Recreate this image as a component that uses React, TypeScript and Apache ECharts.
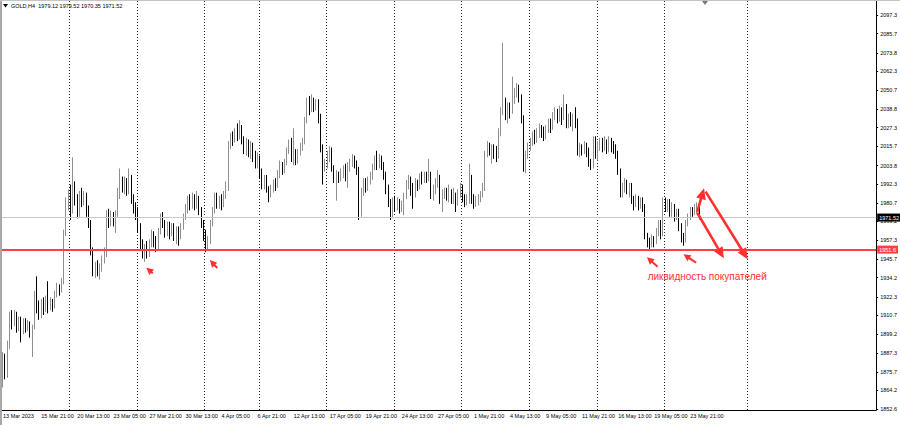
import React, { useEffect, useRef } from "react";
import * as echarts from "echarts";

// ---------- data ----------
const symbolName = "GOLD,H4";
const SLOT_COUNT = 388; // bar slots on the time axis (data + empty future space)

const xLabelIndex = [0, 17, 33, 49, 65, 81, 97, 113, 129, 145, 161, 177, 193, 209, 225, 241, 257, 273, 289, 305];
const xLabelText = [
  "13 Mar 2023", "15 Mar 21:00", "20 Mar 13:00", "23 Mar 05:00", "27 Mar 21:00", "30 Mar 13:00",
  "4 Apr 05:00", "6 Apr 21:00", "12 Apr 13:00", "17 Apr 05:00", "19 Apr 21:00", "24 Apr 13:00",
  "27 Apr 05:00", "1 May 21:00", "4 May 13:00", "9 May 05:00", "11 May 21:00", "16 May 13:00",
  "19 May 05:00", "23 May 21:00",
];
const weekStartIndex = [30, 60, 90, 114, 144, 174, 204, 234, 264, 294, 331];

const yTickValues = [
  1852.6, 1864.2, 1875.7, 1887.3, 1899.2, 1910.7, 1922.3, 1934.2, 1945.7, 1957.3, 1969.2,
  1980.7, 1992.3, 2003.8, 2015.7, 2027.3, 2038.8, 2050.7, 2062.3, 2073.8, 2085.7, 2097.3,
];
const yMin = 1852.0;
const yMax = 2106.0;

const bidPrice = 1971.52;
const liquidityLevel = 1951.6;
const annotationText = "ликвидность покупателей";
const annotationAnchor = [286.1, 1934.6];

// small arrow markers: tip and tail in [bar index, price]
const smallArrowTips = [[63.6, 1940.3], [91.8, 1945.1], [285.8, 1946.8], [302.0, 1948.7]];
const smallArrowTails = [[66.5, 1936.9], [95.1, 1940.2], [290.5, 1941.0], [307.6, 1943.5]];
// large drawn arrows: start and tip in [bar index, price]
const bigArrowStarts = [[308.1, 1975.1], [311.8, 1987.6], [308.1, 1974.5]];
const bigArrowTips = [[311.1, 1989.7], [330.5, 1945.6], [319.9, 1946.2]];

// H4 candles: [open, close, low, high]
const candles = [
  [1868, 1885, 1866, 1888], [1885, 1874, 1871, 1887], [1874, 1893, 1872, 1895], [1893, 1910, 1890, 1913],
  [1910, 1906, 1902, 1914], [1906, 1911, 1904, 1914], [1911, 1903, 1900, 1913], [1903, 1908, 1901, 1910],
  [1908, 1902, 1894, 1910], [1902, 1906, 1899, 1909], [1906, 1904, 1900, 1909], [1904, 1905, 1901, 1908],
  [1905, 1899, 1897, 1907], [1899, 1903, 1885, 1905], [1903, 1923, 1902, 1926], [1923, 1916, 1912, 1935],
  [1916, 1912, 1908, 1920], [1912, 1918, 1909, 1921], [1918, 1915, 1911, 1922], [1915, 1919, 1913, 1923],
  [1919, 1916, 1912, 1932], [1916, 1920, 1914, 1922], [1920, 1917, 1913, 1921], [1917, 1924, 1915, 1926],
  [1924, 1928, 1922, 1931], [1928, 1926, 1923, 1930], [1926, 1932, 1925, 1934], [1932, 1962, 1930, 1964],
  [1962, 1981, 1960, 1984], [1981, 1987, 1976, 1989],
  // week of 20 Mar
  [1987, 1976, 1970, 1992], [1976, 1990, 1974, 2009], [1990, 1983, 1979, 1994], [1983, 1974, 1971, 1986],
  [1974, 1986, 1972, 1988], [1986, 1982, 1978, 1990], [1982, 1985, 1979, 1988], [1985, 1976, 1972, 1987],
  [1976, 1968, 1965, 1979], [1968, 1951, 1948, 1970], [1951, 1937, 1935, 1953], [1937, 1941, 1934, 1944],
  [1941, 1938, 1935, 1945], [1938, 1940, 1933, 1943], [1940, 1946, 1938, 1948], [1946, 1950, 1943, 1953],
  [1950, 1973, 1947, 1976], [1973, 1968, 1965, 1977], [1968, 1972, 1966, 1976], [1972, 1970, 1966, 1975],
  [1970, 1974, 1962, 1976], [1974, 1985, 1972, 1990], [1985, 1993, 1983, 2002], [1993, 1990, 1987, 1997],
  [1990, 1994, 1986, 1997], [1994, 1988, 1985, 1996], [1988, 1995, 1986, 2002], [1995, 1983, 1980, 1998],
  [1983, 1977, 1974, 1986], [1977, 1976, 1970, 1981],
  // week of 27 Mar
  [1976, 1966, 1962, 1978], [1966, 1955, 1952, 1968], [1955, 1950, 1946, 1958], [1950, 1952, 1944, 1955],
  [1952, 1948, 1946, 1957], [1948, 1956, 1947, 1958], [1956, 1961, 1953, 1964], [1961, 1957, 1953, 1963],
  [1957, 1952, 1950, 1960], [1952, 1963, 1951, 1965], [1963, 1972, 1961, 1974], [1972, 1968, 1965, 1975],
  [1968, 1962, 1959, 1970], [1962, 1967, 1960, 1969], [1967, 1963, 1958, 1969], [1963, 1966, 1960, 1968],
  [1966, 1961, 1957, 1968], [1961, 1964, 1955, 1966], [1964, 1960, 1954, 1966], [1960, 1966, 1958, 1968],
  [1966, 1972, 1964, 1974], [1972, 1977, 1970, 1980], [1977, 1982, 1974, 1985], [1982, 1979, 1976, 1986],
  [1979, 1983, 1977, 1987], [1983, 1980, 1976, 1986], [1980, 1982, 1977, 1988], [1982, 1976, 1973, 1985],
  [1976, 1968, 1965, 1978], [1968, 1960, 1957, 1970],
  // week of 3 Apr
  [1960, 1955, 1950, 1964], [1955, 1957, 1951, 1960], [1957, 1968, 1955, 1970], [1968, 1976, 1966, 1978],
  [1976, 1984, 1974, 1987], [1984, 1980, 1977, 1987], [1980, 1983, 1977, 1985], [1983, 1979, 1976, 1986],
  [1979, 1985, 1978, 1988], [1985, 1990, 1983, 1994], [1990, 2017, 1988, 2019], [2017, 2021, 2014, 2024],
  [2021, 2020, 2016, 2025], [2020, 2024, 2018, 2027], [2024, 2022, 2019, 2030], [2022, 2026, 2020, 2032],
  [2026, 2020, 2017, 2029], [2020, 2014, 2011, 2022], [2014, 2018, 2010, 2021], [2018, 2013, 2009, 2020],
  [2013, 2016, 2008, 2019], [2016, 2010, 2006, 2018], [2010, 2006, 2002, 2013], [2006, 2008, 2002, 2012],
  // week of 10 Apr
  [2008, 2000, 1996, 2010], [2000, 1992, 1989, 2002], [1992, 1996, 1989, 1998], [1996, 1989, 1987, 1998],
  [1989, 1985, 1981, 1991], [1985, 1990, 1984, 1992], [1990, 1993, 1987, 1995], [1993, 1991, 1988, 1996],
  [1991, 1998, 1990, 2001], [1998, 2004, 1996, 2007], [2004, 2001, 1998, 2006], [2001, 2006, 1999, 2008],
  [2006, 2013, 2004, 2015], [2013, 2018, 2011, 2020], [2018, 2009, 2006, 2021], [2009, 2011, 2004, 2027],
  [2011, 2007, 2004, 2014], [2007, 2012, 2005, 2014], [2012, 2015, 2010, 2018], [2015, 2019, 2013, 2021],
  [2019, 2032, 2017, 2034], [2032, 2043, 2030, 2046], [2043, 2039, 2035, 2047], [2039, 2044, 2037, 2048],
  [2044, 2041, 2037, 2046], [2041, 2043, 2038, 2045], [2043, 2034, 2030, 2045], [2034, 2015, 2012, 2036],
  [2015, 2004, 1992, 2017], [2004, 2005, 2000, 2008],
  // week of 17 Apr
  [2005, 2010, 2002, 2013], [2010, 2014, 2006, 2016], [2014, 2002, 2000, 2015], [2002, 1996, 1993, 2004],
  [1996, 1998, 1982, 2001], [1998, 1996, 1993, 2000], [1996, 1999, 1994, 2002], [1999, 2002, 1996, 2004],
  [2002, 1999, 1994, 2005], [1999, 2003, 1990, 2006], [2003, 2005, 2000, 2008], [2005, 2008, 2003, 2011],
  [2008, 2005, 2002, 2010], [2005, 2001, 1998, 2007], [2001, 1976, 1970, 2003], [1976, 1988, 1972, 1990],
  [1988, 1993, 1985, 1996], [1993, 1991, 1987, 1996], [1991, 1995, 1988, 1997], [1995, 1997, 1992, 2000],
  [1997, 2003, 1995, 2005], [2003, 2007, 2001, 2010], [2007, 2005, 2001, 2013], [2005, 2008, 2002, 2011],
  [2008, 2004, 2001, 2010], [2004, 1998, 1995, 2006], [1998, 1990, 1986, 2000], [1990, 1980, 1978, 1992],
  [1980, 1974, 1970, 1983], [1974, 1982, 1971, 1984],
  // week of 24 Apr
  [1982, 1978, 1975, 1985], [1978, 1981, 1976, 1984], [1981, 1977, 1974, 1983], [1977, 1979, 1975, 1982],
  [1979, 1985, 1973, 1987], [1985, 1992, 1983, 1995], [1992, 1995, 1989, 1998], [1995, 1990, 1985, 1997],
  [1990, 1986, 1977, 1993], [1986, 1993, 1984, 1996], [1993, 1991, 1988, 1995], [1991, 1997, 1989, 1999],
  [1997, 1995, 1992, 2000], [1995, 1998, 1993, 2000], [1998, 1996, 1993, 2000], [1996, 1998, 1994, 2008],
  [1998, 1985, 1983, 2000], [1985, 1989, 1982, 1992], [1989, 1992, 1986, 1996], [1992, 1997, 1990, 2001],
  [1997, 1982, 1980, 1998], [1982, 1986, 1975, 1989], [1986, 1988, 1983, 1990], [1988, 1985, 1982, 1990],
  [1985, 1987, 1981, 1992], [1987, 1983, 1980, 1989], [1983, 1985, 1980, 1990], [1985, 1981, 1975, 1987],
  [1981, 1986, 1979, 1989], [1986, 1990, 1984, 1993],
  // week of 1 May
  [1990, 1984, 1981, 1992], [1984, 1981, 1978, 1986], [1981, 1983, 1979, 1986], [1983, 1996, 1980, 2005],
  [1996, 1984, 1980, 1998], [1984, 1980, 1977, 1986], [1980, 1982, 1978, 1985], [1982, 1983, 1979, 1986],
  [1983, 1986, 1981, 1988], [1986, 1990, 1984, 1993], [1990, 2011, 1988, 2013], [2011, 2016, 2009, 2019],
  [2016, 2013, 2010, 2018], [2013, 2015, 2005, 2017], [2015, 2012, 2008, 2017], [2012, 2010, 2006, 2016],
  [2010, 2024, 2008, 2027], [2024, 2038, 2022, 2040], [2038, 2043, 2035, 2080], [2043, 2036, 2032, 2046],
  [2036, 2040, 2030, 2043], [2040, 2038, 2033, 2043], [2038, 2044, 2036, 2059], [2044, 2050, 2042, 2052],
  [2050, 2052, 2046, 2055], [2052, 2046, 2043, 2054], [2046, 2033, 2030, 2048], [2033, 2004, 2000, 2035],
  [2004, 2010, 1999, 2013], [2010, 2016, 2008, 2018],
  // week of 8 May
  [2016, 2019, 2013, 2021], [2019, 2022, 2016, 2025], [2022, 2020, 2017, 2026], [2020, 2024, 2018, 2027],
  [2024, 2027, 2021, 2030], [2027, 2025, 2021, 2029], [2025, 2022, 2019, 2028], [2022, 2026, 2020, 2029],
  [2026, 2030, 2024, 2033], [2030, 2028, 2024, 2033], [2028, 2035, 2026, 2037], [2035, 2037, 2032, 2040],
  [2037, 2033, 2030, 2039], [2033, 2038, 2031, 2041], [2038, 2034, 2029, 2040], [2034, 2040, 2032, 2048],
  [2040, 2030, 2027, 2042], [2030, 2034, 2027, 2036], [2034, 2031, 2028, 2037], [2031, 2033, 2025, 2036],
  [2033, 2030, 2027, 2040], [2030, 2012, 2010, 2033], [2012, 2015, 2009, 2018], [2015, 2013, 2010, 2017],
  [2013, 2016, 2011, 2019], [2016, 2013, 2009, 2018], [2013, 2005, 2003, 2015], [2005, 2003, 2001, 2008],
  [2003, 2020, 2002, 2022], [2020, 2012, 2008, 2022],
  // week of 15 May
  [2012, 2016, 2007, 2019], [2016, 2019, 2013, 2021], [2019, 2016, 2012, 2021], [2016, 2018, 2013, 2022],
  [2018, 2014, 2011, 2020], [2014, 2019, 2012, 2022], [2019, 2016, 2012, 2021], [2016, 2015, 2011, 2019],
  [2015, 2011, 2008, 2017], [2011, 2000, 1998, 2013], [2000, 1986, 1984, 2002], [1986, 1990, 1984, 1993],
  [1990, 1993, 1987, 1996], [1993, 1989, 1986, 1995], [1989, 1991, 1984, 1993], [1991, 1983, 1980, 1993],
  [1983, 1980, 1976, 1985], [1980, 1983, 1978, 1986], [1983, 1979, 1976, 1985], [1979, 1982, 1977, 1984],
  [1982, 1978, 1975, 1984], [1978, 1960, 1958, 1980], [1960, 1956, 1953, 1962], [1956, 1955, 1952, 1959],
  [1955, 1958, 1953, 1961], [1958, 1956, 1953, 1960], [1956, 1962, 1955, 1965], [1962, 1968, 1960, 1970],
  [1968, 1962, 1958, 1970], [1962, 1982, 1960, 1984],
  // week of 22 May
  [1982, 1978, 1975, 1984], [1978, 1981, 1975, 1983], [1981, 1974, 1972, 1983], [1974, 1978, 1972, 1981],
  [1978, 1972, 1969, 1980], [1972, 1975, 1970, 1977], [1975, 1966, 1963, 1977], [1966, 1959, 1956, 1968],
  [1959, 1957, 1954, 1962], [1957, 1968, 1956, 1970], [1968, 1972, 1966, 1974], [1972, 1976, 1970, 1978],
  [1976, 1975, 1972, 1978], [1975, 1977, 1973, 1980], [1977, 1979.12, 1974, 1981],
  [1979.12, 1971.52, 1970.35, 1979.52],
];

// ---------- styles ----------
const FONT = "'Liberation Sans', Arial, sans-serif";
const RED = "#ff3030";

function arrowElements(tail: number[], tip: number[], lineW: number, headLen: number, headHalf: number) {
  const dx = tip[0] - tail[0];
  const dy = tip[1] - tail[1];
  const L = Math.hypot(dx, dy) || 1;
  const ux = dx / L, uy = dy / L;
  const px = -uy, py = ux;
  const bx = tip[0] - ux * headLen, by = tip[1] - uy * headLen;
  return [
    {
      type: "line", silent: true, z: 100,
      shape: { x1: tail[0], y1: tail[1], x2: bx + ux, y2: by + uy },
      style: { stroke: RED, lineWidth: lineW, lineCap: "butt" },
    },
    {
      type: "polygon", silent: true, z: 100,
      shape: { points: [[tip[0], tip[1]], [bx + px * headHalf, by + py * headHalf], [bx - px * headHalf, by - py * headHalf]] },
      style: { fill: RED },
    },
  ];
}

export default function App() {
  const ref = useRef<HTMLDivElement>(null);

  useEffect(() => {
    const el = ref.current;
    if (!el) return;
    const chart = echarts.init(el, null, { renderer: "svg" });
    const categories = Array.from({ length: SLOT_COUNT }, (_, i) => String(i));
    const labelMap = new Map<number, string>(xLabelIndex.map((idx, k) => [idx, xLabelText[k]]));
    const weekSet = new Set(weekStartIndex);
    const last = candles[candles.length - 1];
    const header = `${symbolName}  ${last[0].toFixed(2)} ${last[3].toFixed(2)} ${last[2].toFixed(2)} ${last[1].toFixed(2)}`;

    chart.setOption({
      animation: false,
      backgroundColor: "#ffffff",
      grid: { left: 0, right: 20, top: 1, bottom: 15 },
      xAxis: {
        type: "category",
        data: categories,
        boundaryGap: true,
        axisLine: { show: true, lineStyle: { color: "#000", width: 1 } },
        axisTick: { show: false },
        axisLabel: {
          interval: (i: number) => labelMap.has(i),
          formatter: (_v: string, i: number) => labelMap.get(i) ?? "",
          align: "left",
          margin: 3,
          fontSize: 5.5,
          color: "#000",
          fontFamily: FONT,
        },
        splitLine: {
          show: true,
          interval: (i: number) => weekSet.has(i),
          lineStyle: { color: "#222", type: [1, 2], width: 1 },
        },
      },
      yAxis: {
        type: "value",
        position: "right",
        min: yMin,
        max: yMax,
        axisLine: { show: true, lineStyle: { color: "#000", width: 1 } },
        axisTick: { show: true, length: 2, customValues: yTickValues, lineStyle: { color: "#000" } },
        axisLabel: {
          customValues: yTickValues,
          formatter: (v: number) => v.toFixed(1),
          margin: 4,
          fontSize: 5.5,
          color: "#000",
          fontFamily: FONT,
        },
        splitLine: { show: false },
      },
      series: [
        {
          type: "candlestick",
          data: candles,
          barWidth: 1.3,
          itemStyle: {
            color: "#a3a3a3",
            color0: "#000000",
            borderColor: "#8e8e8e",
            borderColor0: "#000000",
            borderWidth: 1,
          },
          markLine: {
            silent: true,
            symbol: ["none", "none"],
            animation: false,
            data: [
              {
                yAxis: bidPrice,
                lineStyle: { color: "#c8c8c8", width: 1, type: "solid" },
                label: {
                  show: true, position: "end", distance: 1,
                  formatter: bidPrice.toFixed(2),
                  backgroundColor: "#000", color: "#fff",
                  fontSize: 5.5, fontFamily: FONT, padding: [1, 2, 1, 2],
                },
              },
              {
                yAxis: liquidityLevel,
                lineStyle: { color: "#ff4040", width: 2, type: "solid" },
                label: {
                  show: true, position: "end", distance: 1,
                  formatter: liquidityLevel.toFixed(1),
                  backgroundColor: "#ff4040", color: "#fff",
                  fontSize: 5.5, fontFamily: FONT, padding: [1, 2, 1, 2],
                },
              },
            ],
          },
        },
      ],
    });

    const toPx = (pt: number[]) => {
      const i0 = Math.floor(pt[0]);
      const a = chart.convertToPixel({ gridIndex: 0 }, [i0, pt[1]]) as number[];
      const b = chart.convertToPixel({ gridIndex: 0 }, [i0 + 1, pt[1]]) as number[];
      return [a[0] + (pt[0] - i0) * (b[0] - a[0]), a[1]];
    };

    const elements: any[] = [
      { type: "rect", silent: true, z: 90, shape: { x: 0, y: 0, width: 2, height: 425 }, style: { fill: "#a9a9a9" } },
      { type: "rect", silent: true, z: 90, shape: { x: 0, y: 0, width: 900, height: 1 }, style: { fill: "#c4c4c4" } },
      { type: "polygon", silent: true, z: 90, shape: { points: [[702, 1], [708, 1], [705, 5]] }, style: { fill: "#7a7a7a" } },
      { type: "polygon", silent: true, z: 90, shape: { points: [[3, 4], [8, 4], [5.5, 7.5]] }, style: { fill: "#000" } },
      {
        type: "text", silent: true, z: 90, x: 11, y: 6,
        style: { text: header, fill: "#000", fontSize: 5.5, fontFamily: FONT, verticalAlign: "middle", align: "left" },
      },
    ];
    smallArrowTips.forEach((tip, k) => {
      elements.push(...arrowElements(toPx(smallArrowTails[k]), toPx(tip), 2, 7, 3.6));
    });
    bigArrowTips.forEach((tip, k) => {
      elements.push(...arrowElements(toPx(bigArrowStarts[k]), toPx(tip), 2.6, 11, 5));
    });
    const tp = toPx(annotationAnchor);
    elements.push({
      type: "text", silent: true, z: 100, x: tp[0], y: tp[1],
      style: { text: annotationText, fill: RED, fontSize: 10, fontFamily: FONT, verticalAlign: "middle", align: "left" },
    });

    chart.setOption({ graphic: { elements } });

    return () => chart.dispose();
  }, []);

  return (
    <div
      ref={ref}
      style={{ position: "fixed", left: 0, top: 0, width: 900, height: 425, background: "#fff" }}
    />
  );
}
